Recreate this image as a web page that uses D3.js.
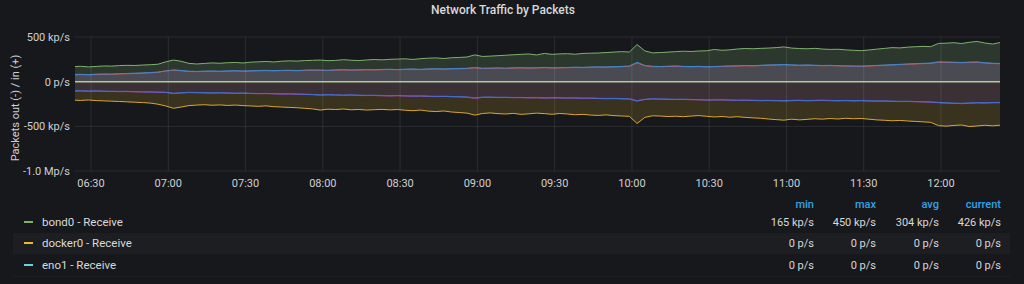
<!DOCTYPE html>
<html>
<head>
<meta charset="utf-8">
<script src="https://cdn.jsdelivr.net/npm/d3@7"></script>
<style>
body { margin: 0; background: #17181c; }
svg { display: block; font-family: Roboto, Inter, "Noto Sans", sans-serif; }
</style>
</head>
<body>
<svg id="chart" width="1024" height="284"></svg>
<script>
// values in kp/s, one point every 3 minutes starting 06:23
var startTime = new Date(2021, 0, 1, 6, 23);
var stepMinutes = 3;

var bond0In = [
  168, 172, 165, 170, 176, 174, 180, 183, 181, 186,
  190, 195, 222, 242, 228, 205, 198, 204, 210, 206,
  212, 215, 209, 218, 222, 226, 220, 229, 233, 230,
  236, 239, 242, 235, 238, 246, 240, 236, 243, 248,
  244, 250, 253, 256, 249, 258, 263, 266, 259, 268,
  271, 276, 300, 282, 286, 291, 296, 301, 306, 310,
  299, 316, 306, 311, 313, 307, 316, 319, 321, 326,
  331, 336, 332, 415, 345, 322, 326, 331, 336, 341,
  338, 343, 346, 360, 351, 356, 366, 371, 368, 373,
  376, 381, 389, 376, 371, 368, 373, 365, 361, 363,
  356, 351, 347, 354, 364, 372, 381, 378, 386, 391,
  395, 392, 428, 431, 436, 427, 441, 450, 433, 421,
  438
];
var blueIn = [
  80, 82, 79, 84, 86, 85, 90, 92, 95, 98,
  102, 108, 118, 132, 126, 117, 115, 118, 120, 117,
  121, 123, 119, 122, 125, 127, 124, 126, 128, 125,
  129, 131, 130, 127, 132, 135, 131, 133, 136, 134,
  137, 139, 136, 140, 142, 138, 143, 145, 142, 146,
  148, 150, 158, 150, 152, 154, 151, 155, 157, 154,
  156, 160, 155, 157, 159, 162, 160, 164, 166, 165,
  168, 171, 175, 218, 182, 172, 170, 173, 176, 171,
  169, 172, 167, 170, 173, 176, 178, 181, 179, 184,
  187, 189, 193, 188, 185, 187, 184, 181, 183, 179,
  177, 175, 174, 178, 182, 186, 190, 194, 198, 202,
  205, 208, 222, 220, 218, 215, 219, 221, 212, 206,
  204
];
var redIn = [
  76, 79, 77, 80, 83, 82, 86, 89, 91, 95,
  99, 105, 122, 128, 121, 114, 112, 115, 116, 114,
  118, 120, 117, 119, 122, 123, 121, 124, 125, 122,
  126, 128, 127, 125, 129, 131, 129, 130, 133, 131,
  134, 136, 134, 137, 139, 136, 140, 142, 140, 143,
  145, 147, 154, 148, 149, 151, 149, 152, 154, 152,
  153, 157, 153, 155, 156, 159, 158, 161, 163, 162,
  165, 168, 172, 210, 178, 169, 168, 170, 172, 169,
  166, 169, 165, 168, 170, 173, 175, 178, 176, 181,
  184, 186, 189, 185, 182, 184, 181, 179, 180, 177,
  175, 173, 172, 175, 179, 183, 187, 191, 195, 198,
  202, 205, 218, 216, 214, 212, 215, 217, 209, 203,
  201
];
var purpleOut = [
  -106, -104, -108, -105, -109, -110, -112, -111, -114, -116,
  -117, -119, -121, -133, -127, -122, -124, -126, -128, -126,
  -129, -131, -130, -133, -135, -134, -137, -139, -138, -141,
  -143, -146, -151, -148, -150, -153, -151, -154, -156, -155,
  -158, -160, -158, -161, -163, -162, -165, -167, -166, -169,
  -171, -174, -186, -176, -175, -178, -177, -180, -179, -182,
  -181, -184, -182, -183, -185, -184, -187, -186, -189, -191,
  -190, -193, -195, -218, -200, -194, -196, -198, -200, -199,
  -202, -204, -207, -206, -205, -208, -210, -209, -211, -213,
  -212, -214, -216, -213, -211, -214, -212, -210, -213, -215,
  -213, -216, -214, -217, -219, -218, -221, -223, -222, -225,
  -227, -230, -236, -240, -244, -246, -242, -238, -240, -237,
  -236
];
var blueOut = [
  -102, -101, -105, -103, -106, -107, -109, -108, -111, -113,
  -114, -116, -118, -129, -124, -119, -121, -123, -125, -123,
  -126, -128, -127, -130, -132, -131, -134, -136, -135, -138,
  -140, -143, -148, -145, -147, -150, -148, -151, -153, -152,
  -155, -157, -155, -158, -160, -159, -162, -164, -163, -166,
  -168, -171, -182, -173, -172, -175, -174, -177, -176, -179,
  -178, -181, -179, -180, -182, -181, -184, -183, -186, -188,
  -187, -190, -192, -212, -197, -191, -193, -195, -197, -196,
  -199, -201, -204, -203, -202, -205, -207, -206, -208, -210,
  -209, -211, -213, -210, -208, -211, -209, -207, -210, -212,
  -210, -213, -211, -214, -216, -215, -218, -220, -219, -222,
  -224, -227, -232, -236, -240, -242, -238, -234, -236, -233,
  -232
];
var bond0Out = [
  -207, -210, -205, -212, -215, -218, -222, -226, -230, -234,
  -240, -252, -272, -298, -284, -268, -262, -258, -264, -260,
  -266, -262, -268, -272, -276, -271, -280, -284, -288, -292,
  -298, -305, -318, -308, -312, -306, -315, -311, -318, -314,
  -310, -316, -312, -320, -325, -318, -330, -335, -328, -340,
  -345, -352, -375, -356, -350, -358, -362, -355, -366, -360,
  -352, -358, -365, -356, -362, -370, -366, -374, -378, -372,
  -380, -384, -388, -468, -400, -382, -385, -390, -387, -392,
  -385, -380, -388, -395, -390, -398, -392, -400, -405, -410,
  -418, -425, -431, -420, -428, -422, -415, -420, -412, -418,
  -410, -415, -412, -420, -428, -432, -438, -434, -440, -445,
  -450, -455, -492, -498, -490, -485, -502, -496, -488, -494,
  -487
];
var zeroLine = bond0In.map(function() { return 0; });

var yTicks = [500, 0, -500, -1000];

var legendNames = ['bond0 - Receive', 'docker0 - Receive', 'eno1 - Receive'];
var legendColors = ['#7eb26d', '#eab839', '#6ed0e0'];
var statHeaders = ['min', 'max', 'avg', 'current'];
var statMin = ['165 kp/s', '0 p/s', '0 p/s'];
var statMax = ['450 kp/s', '0 p/s', '0 p/s'];
var statAvg = ['304 kp/s', '0 p/s', '0 p/s'];
var statCurrent = ['426 kp/s', '0 p/s', '0 p/s'];

var svg = d3.select('#chart');
var plotLeft = 75, plotRight = 1000, plotTop = 37, plotBottom = 171;

var times = bond0In.map(function(d, i) {
  return new Date(startTime.getTime() + i * stepMinutes * 60000);
});

var x = d3.scaleTime()
  .domain([new Date(2021, 0, 1, 6, 23, 47), new Date(2021, 0, 1, 12, 22, 54)])
  .range([plotLeft, plotRight]);
var y = d3.scaleLinear().domain([-1000, 500]).range([plotBottom, plotTop]);

function fmt(v) {
  if (v === 0) return '0 p/s';
  if (Math.abs(v) >= 1000) return (v / 1000).toFixed(1) + ' Mp/s';
  return v + ' kp/s';
}

svg.append('rect').attr('width', 1024).attr('height', 284).attr('fill', '#17181c');

svg.append('text')
  .attr('x', 503).attr('y', 14)
  .attr('text-anchor', 'middle')
  .attr('fill', '#d8d9da')
  .style('font-size', '12px').style('font-weight', 500)
  .text('Network Traffic by Packets');

svg.append('defs').append('clipPath').attr('id', 'clip')
  .append('rect').attr('x', plotLeft).attr('y', plotTop - 5)
  .attr('width', plotRight - plotLeft).attr('height', plotBottom - plotTop + 10);

var plot = svg.append('g').attr('clip-path', 'url(#clip)');

function band(outer, inner, color) {
  var area = d3.area()
    .x(function(d, i) { return x(times[i]); })
    .y0(function(d, i) { return y(inner[i]); })
    .y1(function(d) { return y(d); });
  plot.append('path').datum(outer).attr('d', area).attr('fill', color);
}
band(bond0In, blueIn, '#2c382d');
band(blueIn, zeroLine, '#4a4b52');
band(purpleOut, zeroLine, '#3b3036');
band(bond0Out, purpleOut, '#38321f');

// grid
svg.append('g').selectAll('line').data(yTicks).enter().append('line')
  .attr('x1', plotLeft).attr('x2', plotRight)
  .attr('y1', function(d) { return y(d); }).attr('y2', function(d) { return y(d); })
  .attr('stroke', 'rgba(255,255,255,0.09)');
var xTicks = x.ticks(d3.timeMinute.every(30));
svg.append('g').selectAll('line').data(xTicks).enter().append('line')
  .attr('x1', function(d) { return x(d); }).attr('x2', function(d) { return x(d); })
  .attr('y1', plotTop).attr('y2', plotBottom)
  .attr('stroke', 'rgba(255,255,255,0.09)');

function line(values, color, w) {
  var l = d3.line()
    .x(function(d, i) { return x(times[i]); })
    .y(function(d) { return y(d); });
  plot.append('path').datum(values).attr('d', l)
    .attr('fill', 'none').attr('stroke', color).attr('stroke-width', w || 1);
}
line(bond0In, '#7eb26d');
line(redIn, '#e24d42');
line(blueIn, '#3b87d4');
line(purpleOut, '#ba43a9');
line(blueOut, '#3b6fd4');
line(bond0Out, '#d9a82e');
line(zeroLine, '#a9c98f', 1.5);

// axis labels
svg.append('g').selectAll('text').data(yTicks).enter().append('text')
  .attr('x', 70).attr('y', function(d) { return y(d) + 4; })
  .attr('text-anchor', 'end').attr('fill', '#cfd0d2')
  .style('font-size', '11px')
  .text(fmt);

svg.append('g').selectAll('text').data(xTicks).enter().append('text')
  .attr('x', function(d) { return x(d); }).attr('y', 187)
  .attr('text-anchor', 'middle').attr('fill', '#cfd0d2')
  .style('font-size', '11px')
  .text(d3.timeFormat('%H:%M'));

svg.append('text')
  .attr('transform', 'translate(19,108) rotate(-90)')
  .attr('text-anchor', 'middle').attr('fill', '#cfd0d2')
  .style('font-size', '11px')
  .text('Packets out (-) / in (+)');

// legend table
var colRight = [814, 876, 939, 1001];
var rowY = [222, 243, 265];
svg.append('rect').attr('x', 13).attr('y', 233).attr('width', 997).attr('height', 21).attr('fill', '#1d1e22');
svg.append('line').attr('x1', 13).attr('x2', 1010).attr('y1', 276.5).attr('y2', 276.5).attr('stroke', '#1d1e22');

svg.append('g').selectAll('text').data(statHeaders).enter().append('text')
  .attr('x', function(d, i) { return colRight[i]; }).attr('y', 208)
  .attr('text-anchor', 'end').attr('fill', '#33a2e5')
  .style('font-size', '11px').style('font-weight', 500)
  .text(function(d) { return d; });

var rows = svg.append('g').selectAll('g').data(legendNames).enter().append('g');
rows.append('line')
  .attr('x1', 24).attr('x2', 33)
  .attr('y1', function(d, i) { return rowY[i]; }).attr('y2', function(d, i) { return rowY[i]; })
  .attr('stroke', function(d, i) { return legendColors[i]; }).attr('stroke-width', 2);
rows.append('text')
  .attr('x', 42).attr('y', function(d, i) { return rowY[i] + 4; })
  .attr('fill', '#d8d9da').style('font-size', '11.5px')
  .text(function(d) { return d; });

var stats = [statMin, statMax, statAvg, statCurrent];
stats.forEach(function(col, c) {
  svg.append('g').selectAll('text').data(col).enter().append('text')
    .attr('x', colRight[c]).attr('y', function(d, i) { return rowY[i] + 4; })
    .attr('text-anchor', 'end').attr('fill', '#d8d9da')
    .style('font-size', '11px')
    .text(function(d) { return d; });
});
</script>
</body>
</html>
